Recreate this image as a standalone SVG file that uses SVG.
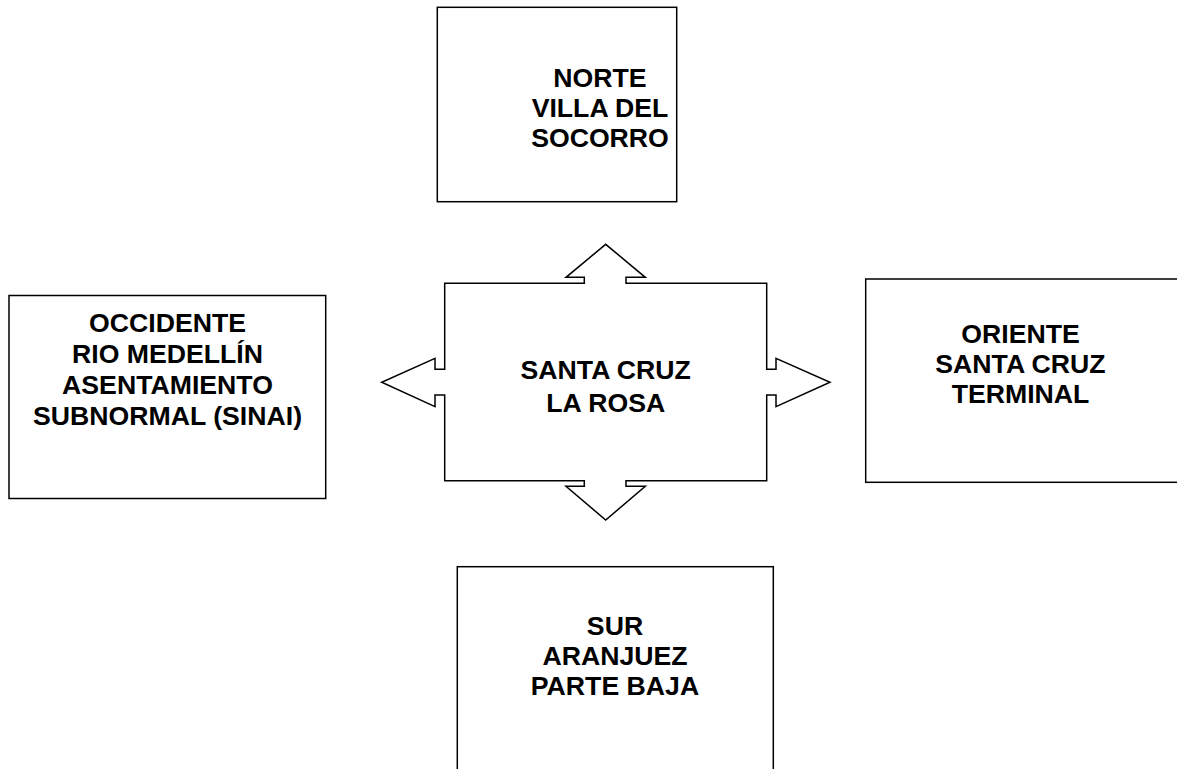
<svg xmlns="http://www.w3.org/2000/svg" width="1177" height="769" viewBox="0 0 1177 769">
<style>
.box{fill:#fff;stroke:#000;stroke-width:1.5}
.t{font-family:"Liberation Sans",Arial,sans-serif;font-weight:bold;font-size:26.67px;fill:#000;text-anchor:middle}
</style>
<rect width="1177" height="769" fill="#fff"/>
<g id="norte">
<rect class="box" x="437.3" y="7.3" width="239.4" height="194.4"/>
<text class="t" x="600" y="87.3">NORTE</text>
<text class="t" x="600" y="117.3">VILLA DEL</text>
<text class="t" x="600" y="147">SOCORRO</text>
</g>
<g id="occidente">
<rect class="box" x="9" y="295.5" width="316.7" height="203"/>
<text class="t" x="167.5" y="332">OCCIDENTE</text>
<text class="t" x="167.5" y="363">RIO MEDELLÍN</text>
<text class="t" x="167.5" y="394">ASENTAMIENTO</text>
<text class="t" x="167.5" y="425">SUBNORMAL (SINAI)</text>
</g>
<g id="oriente">
<rect class="box" x="865.7" y="279" width="320" height="203.3"/>
<text class="t" x="1020.5" y="343.3">ORIENTE</text>
<text class="t" x="1020.5" y="373.3">SANTA CRUZ</text>
<text class="t" x="1020.5" y="403.3">TERMINAL</text>
</g>
<g id="sur">
<rect class="box" x="457.3" y="566.7" width="316" height="220"/>
<text class="t" x="615" y="635">SUR</text>
<text class="t" x="615" y="664.5">ARANJUEZ</text>
<text class="t" x="615" y="695">PARTE BAJA</text>
</g>
<g id="connectors">
<path class="box" d="M444.7,283.3 H584.3 V277.3 H566 L605.7,244.3 L645.3,277.3 H626 V283.3 H766.7 V369.3 H776 V358.3 L830,382.3 L776,406.7 V395 H766.7 V480.7 H626 V486.3 H645.3 L605.7,520 L566,486.3 H584.3 V480.7 H444.7 V395 H435 V406.7 L381.7,382.3 L435,358.3 V369.3 H444.7 Z"/>
</g>
<g id="santa-cruz">
<text class="t" x="605.7" y="379">SANTA CRUZ</text>
<text class="t" x="605.7" y="411.7">LA ROSA</text>
</g>
</svg>
